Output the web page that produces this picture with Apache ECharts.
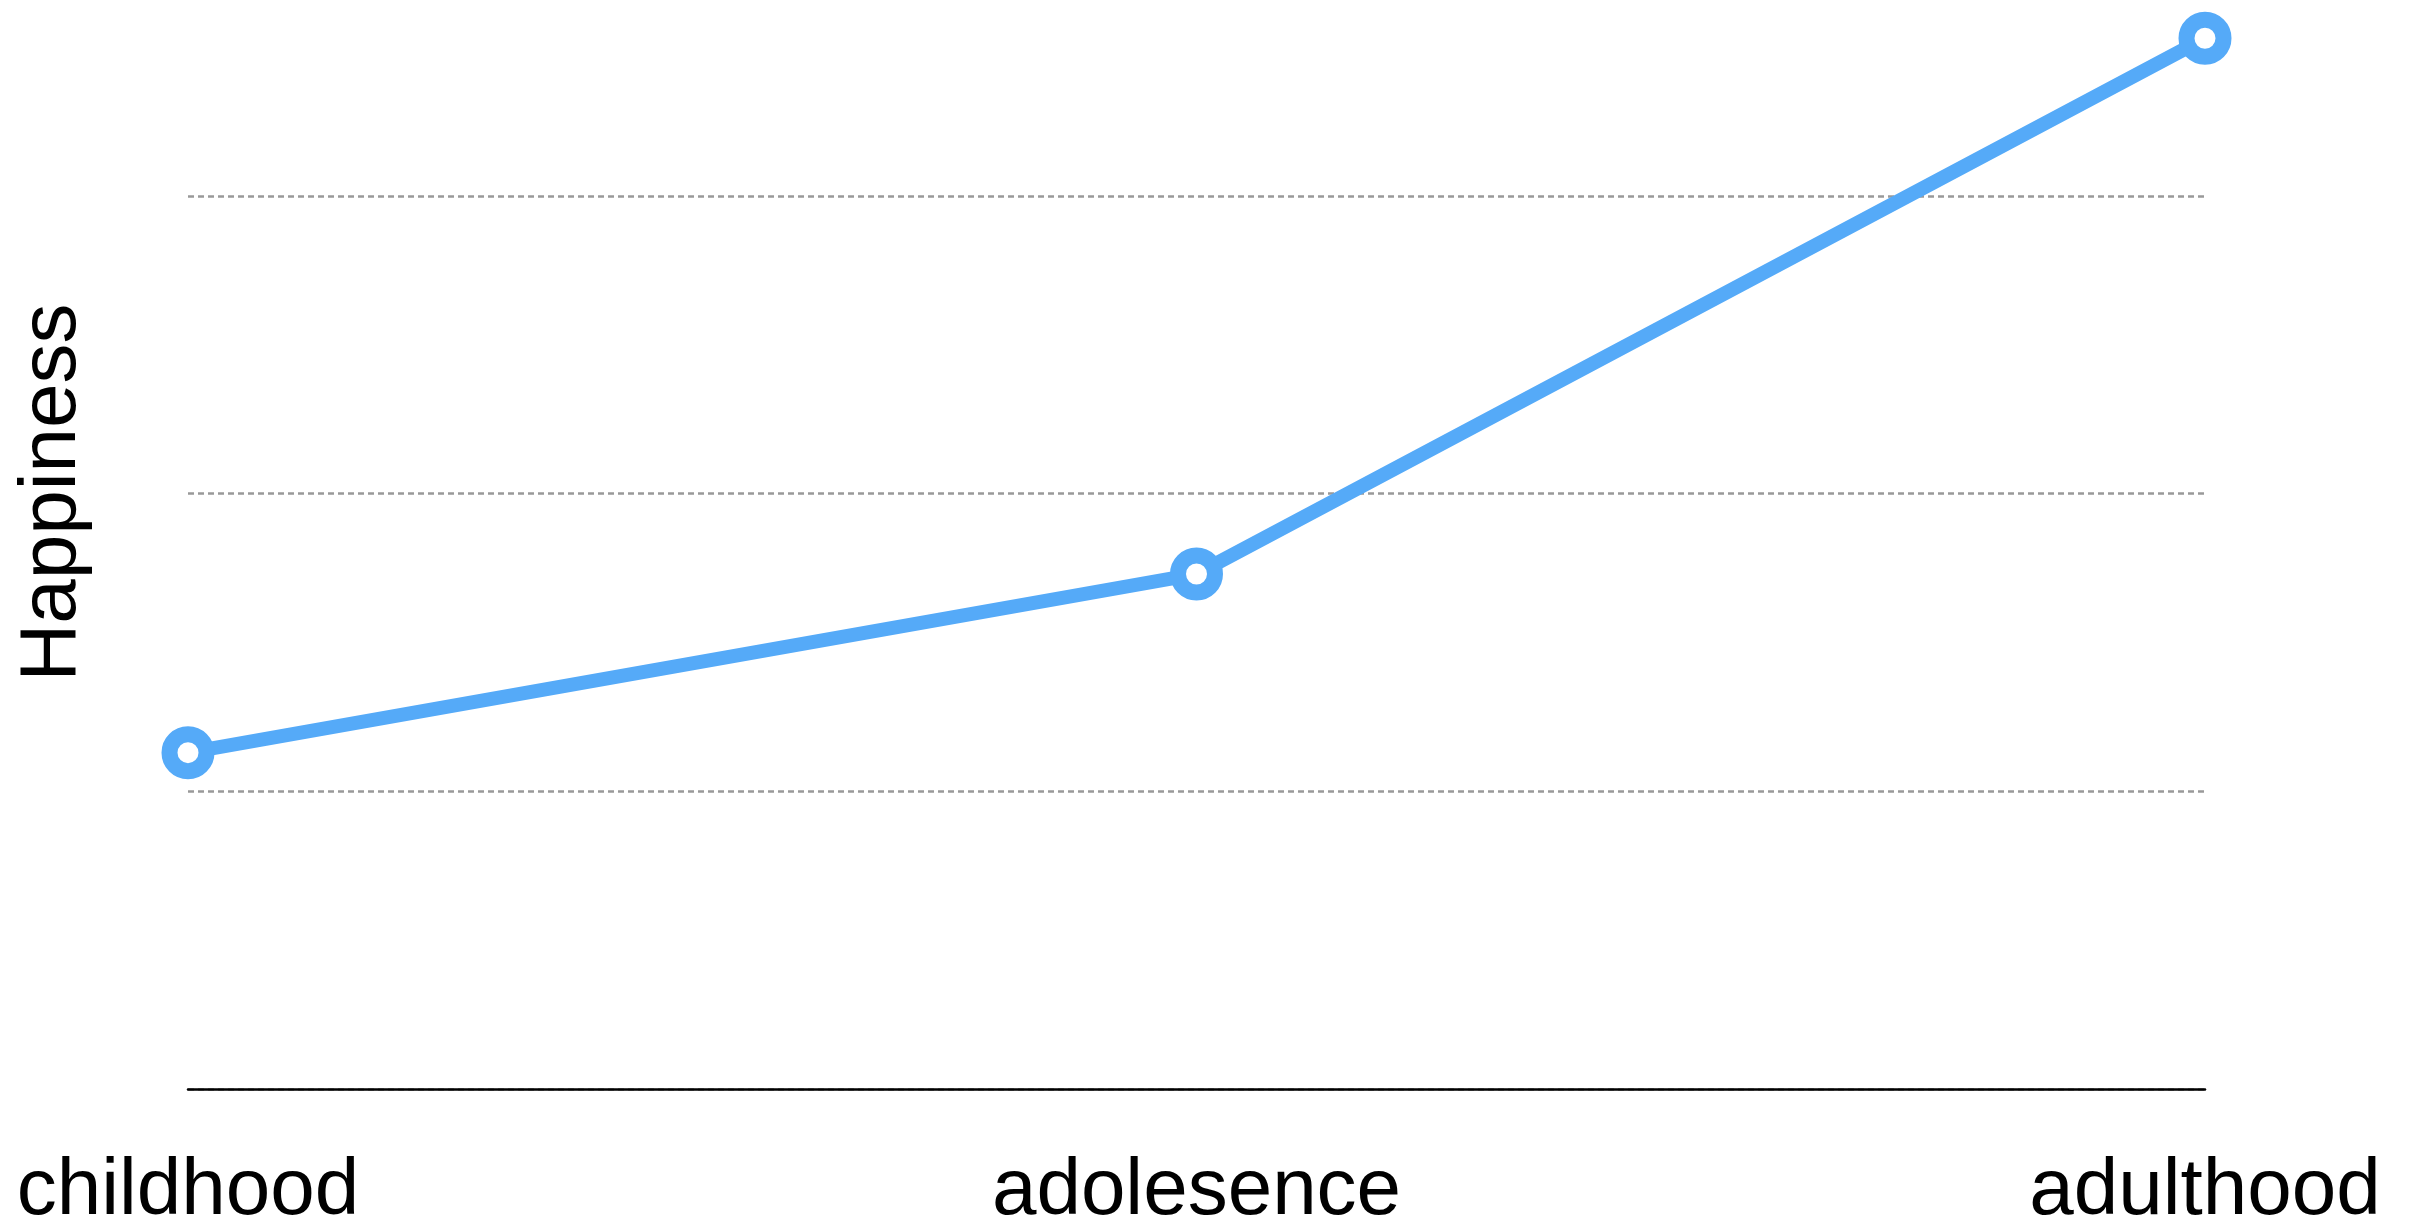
<!DOCTYPE html>
<html>
<head>
<meta charset="utf-8">
<script src="https://cdn.jsdelivr.net/npm/echarts@6/dist/echarts.min.js"></script>
<style>
html,body{margin:0;padding:0;background:#fff;}
#chart{width:2416px;height:1223px;}
</style>
</head>
<body>
<div id="chart"></div>
<script>
const categories = ['childhood', 'adolesence', 'adulthood'];
const happiness = [1.13, 1.73, 3.53];
const yTicks = [0, 1, 2, 3];
const yName = 'Happiness';

const FONT = "'Liberation Sans', Arial, Helvetica, sans-serif";
const BLUE = '#55aaf8';
const chart = echarts.init(document.getElementById('chart'), null, {renderer: 'canvas'});
chart.setOption({
  backgroundColor: '#ffffff',
  animation: false,
  grid: {left: 188, right: 211, top: 196, bottom: 134, containLabel: false, outerBoundsMode: 'none'},
  xAxis: {
    type: 'category',
    data: categories,
    boundaryGap: false,
    axisLine: {show: true, lineStyle: {color: '#000', width: 2.5}},
    axisTick: {show: false},
    splitLine: {show: false},
    axisLabel: {color: '#000', fontSize: 80, fontFamily: FONT, margin: 63, interval: 0}
  },
  yAxis: {
    type: 'value',
    min: yTicks[0],
    max: yTicks[yTicks.length - 1],
    interval: 1,
    name: yName,
    nameLocation: 'middle',
    nameRotate: 90,
    nameGap: 95,
    nameTextStyle: {color: '#000', fontSize: 80, fontFamily: FONT, padding: [0, 0, 0, 300]},
    axisLine: {show: false},
    axisTick: {show: false},
    axisLabel: {show: false},
    splitLine: {show: true, lineStyle: {color: '#999', width: 2.5, type: [6, 4]}}
  },
  series: [{
    type: 'line',
    data: happiness,
    clip: false,
    symbol: 'circle',
    symbolSize: 37,
    showAllSymbol: true,
    lineStyle: {color: BLUE, width: 14},
    itemStyle: {color: '#ffffff', borderColor: BLUE, borderWidth: 16, borderType: 'solid'}
  }]
});
</script>
</body>
</html>
